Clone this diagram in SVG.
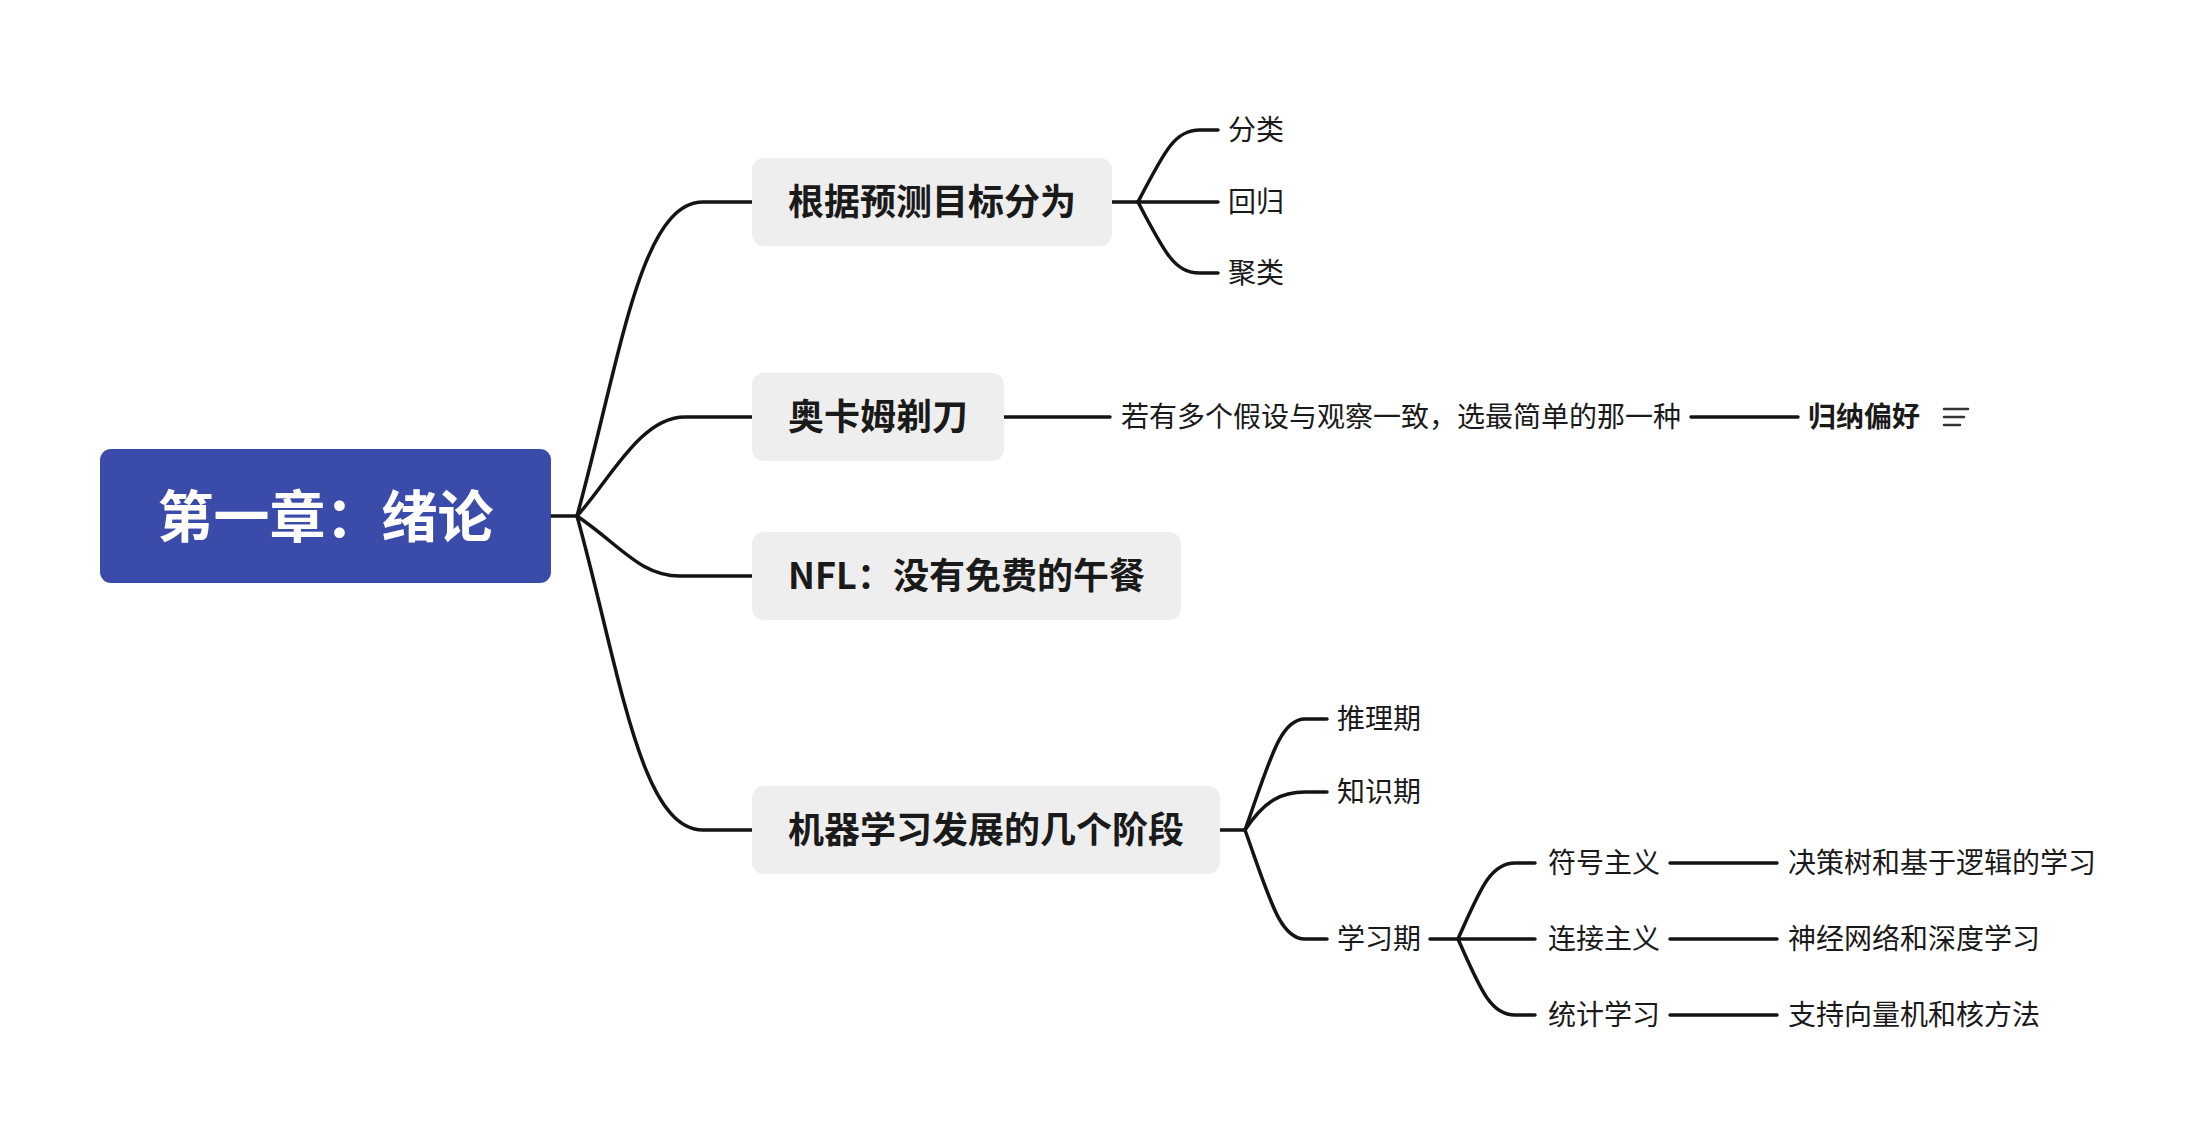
<svg xmlns="http://www.w3.org/2000/svg" width="2208" height="1146" viewBox="0 0 2208 1146">
<style>
.bg{fill:#ffffff}
.root-box{fill:#3A4BAA}
.box{fill:#EEEEEE}
.root-t{font-family:"Noto Sans CJK SC","Liberation Sans",sans-serif;font-size:56px;font-weight:700;fill:#ffffff}
.main-t{font-family:"Noto Sans CJK SC","Liberation Sans",sans-serif;font-size:36px;font-weight:700;fill:#1a1a1a}
.leaf-t{font-family:"Noto Sans CJK SC","Liberation Sans",sans-serif;font-size:28px;font-weight:400;fill:#1a1a1a}
.leaf-b{font-family:"Noto Sans CJK SC","Liberation Sans",sans-serif;font-size:28px;font-weight:700;fill:#1a1a1a}
.c{fill:none;stroke:#141414;stroke-width:3.5;stroke-linecap:round;stroke-linejoin:round}
.icon{fill:none;stroke:#333333;stroke-width:2.5;stroke-linecap:round}
</style>
<rect class="bg" x="0" y="0" width="2208" height="1146"/>
<g id="connectors">
  <path class="c" d="M551 516 H577"/>
  <path class="c" d="M577 516 C620 360 640 202 703 202 H752"/>
  <path class="c" d="M577 516 C610 480 640 417 685 417 H752"/>
  <path class="c" d="M577 516 C620 545 640 576 680 576 H752"/>
  <path class="c" d="M577 516 C620 672 640 830 703 830 H752"/>
  <path class="c" d="M1112 202 H1138"/>
  <path class="c" d="M1138 202 C1165 150 1175 130 1200 130 H1218"/>
  <path class="c" d="M1138 202 H1218"/>
  <path class="c" d="M1138 202 C1165 254 1175 273 1200 273 H1218"/>
  <path class="c" d="M1004 417 H1110"/>
  <path class="c" d="M1691 417 H1798"/>
  <path class="c" d="M1220 830 H1245"/>
  <path class="c" d="M1245 830 C1270 760 1280 719 1305 719 H1327"/>
  <path class="c" d="M1245 830 C1265 800 1282 792 1305 792 H1327"/>
  <path class="c" d="M1245 830 C1270 900 1280 939 1305 939 H1327"/>
  <path class="c" d="M1430 939 H1458"/>
  <path class="c" d="M1458 939 C1480 890 1490 863 1515 863 H1535"/>
  <path class="c" d="M1458 939 H1535"/>
  <path class="c" d="M1458 939 C1480 988 1490 1015 1515 1015 H1535"/>
  <path class="c" d="M1670 863 H1777"/>
  <path class="c" d="M1670 939 H1777"/>
  <path class="c" d="M1670 1015 H1777"/>
</g>
<g id="root">
  <rect class="root-box" x="100" y="449" width="451" height="134" rx="11"/>
  <text class="root-t" x="325.5" y="512" text-anchor="middle" dominant-baseline="central">第一章：绪论</text>
</g>
<g id="node-goal">
  <rect class="box" x="752" y="158" width="360" height="88" rx="12"/>
  <text class="main-t" x="932" y="199" text-anchor="middle" dominant-baseline="central">根据预测目标分为</text>
</g>
<g id="leaf-classify"><text class="leaf-t" x="1228" y="128" dominant-baseline="central">分类</text></g>
<g id="leaf-regress"><text class="leaf-t" x="1228" y="200" dominant-baseline="central">回归</text></g>
<g id="leaf-cluster"><text class="leaf-t" x="1228" y="271" dominant-baseline="central">聚类</text></g>
<g id="node-occam">
  <rect class="box" x="752" y="373" width="252" height="88" rx="12"/>
  <text class="main-t" x="878" y="414" text-anchor="middle" dominant-baseline="central">奥卡姆剃刀</text>
</g>
<g id="leaf-occam-desc"><text class="leaf-t" x="1121" y="415" dominant-baseline="central">若有多个假设与观察一致，选最简单的那一种</text></g>
<g id="leaf-inductive-bias">
  <text class="leaf-b" x="1808" y="415" dominant-baseline="central">归纳偏好</text>
  <path class="icon" d="M1944 409 H1968 M1944 417 H1964 M1944 425 H1960"/>
</g>
<g id="node-nfl">
  <rect class="box" x="752" y="532" width="429" height="88" rx="12"/>
  <text class="main-t" x="966.5" y="573" text-anchor="middle" dominant-baseline="central">NFL：没有免费的午餐</text>
</g>
<g id="node-stages">
  <rect class="box" x="752" y="786" width="468" height="88" rx="12"/>
  <text class="main-t" x="986" y="827" text-anchor="middle" dominant-baseline="central">机器学习发展的几个阶段</text>
</g>
<g id="leaf-reasoning"><text class="leaf-t" x="1337" y="717" dominant-baseline="central">推理期</text></g>
<g id="leaf-knowledge"><text class="leaf-t" x="1337" y="790" dominant-baseline="central">知识期</text></g>
<g id="leaf-learning"><text class="leaf-t" x="1337" y="937" dominant-baseline="central">学习期</text></g>
<g id="leaf-symbolism"><text class="leaf-t" x="1548" y="861" dominant-baseline="central">符号主义</text></g>
<g id="leaf-connectionism"><text class="leaf-t" x="1548" y="937" dominant-baseline="central">连接主义</text></g>
<g id="leaf-statistical"><text class="leaf-t" x="1548" y="1013" dominant-baseline="central">统计学习</text></g>
<g id="leaf-dt"><text class="leaf-t" x="1788" y="861" dominant-baseline="central">决策树和基于逻辑的学习</text></g>
<g id="leaf-nn"><text class="leaf-t" x="1788" y="937" dominant-baseline="central">神经网络和深度学习</text></g>
<g id="leaf-svm"><text class="leaf-t" x="1788" y="1013" dominant-baseline="central">支持向量机和核方法</text></g>
</svg>
